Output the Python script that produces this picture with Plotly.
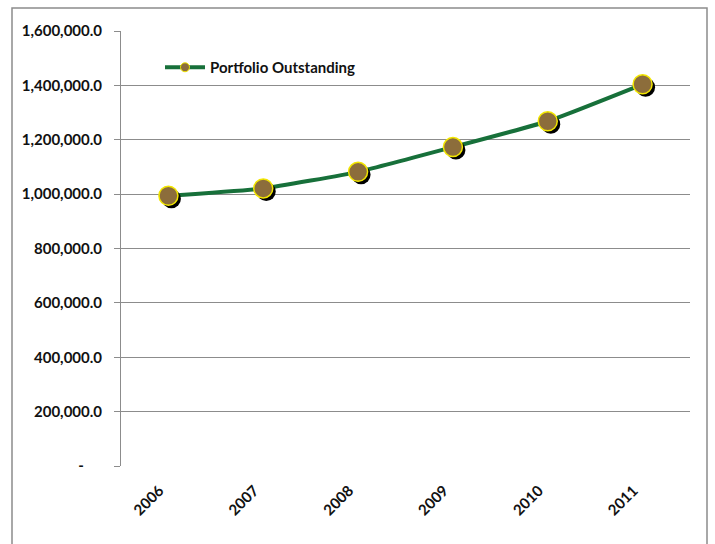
import plotly.graph_objects as go

# Portfolio outstanding by year
years = ["2006", "2007", "2008", "2009", "2010", "2011"]
portfolio = [994000, 1021000, 1082000, 1173000, 1268000, 1404000]
y_ticks = [0, 200000, 400000, 600000, 800000, 1000000, 1200000, 1400000, 1600000]
y_tick_labels = ["-" + "\u00a0" * 5, "200,000.0", "400,000.0", "600,000.0", "800,000.0",
                 "1,000,000.0", "1,200,000.0", "1,400,000.0", "1,600,000.0"]

W, H = 715, 544
M_L, M_R, M_T, M_B = 121, 25, 31, 78
plot_w = W - M_L - M_R
plot_h = H - M_T - M_B
y_max = 1600000

LINE_GREEN = "#17703A"
MARKER_FILL = "#8C6D3B"
MARKER_EDGE = "#F2E600"
FONT = "Lato"
TXT = "#111111"

x_idx = list(range(len(years)))

# drop shadow offset (pixels converted to axis units)
sh_px = 3
sh_dx = sh_px * (len(years)) / plot_w
sh_dy = sh_px * y_max / plot_h

fig = go.Figure()

# line only
fig.add_trace(go.Scatter(
    x=x_idx, y=portfolio, mode="lines",
    line=dict(color=LINE_GREEN, width=4, shape="spline", smoothing=0.4),
    showlegend=False, hoverinfo="skip",
))
# marker shadows
fig.add_trace(go.Scatter(
    x=[v + sh_dx for v in x_idx], y=[v - sh_dy for v in portfolio], mode="markers",
    marker=dict(size=19, color="black", line=dict(width=0)),
    showlegend=False, hoverinfo="skip",
))
# markers
fig.add_trace(go.Scatter(
    x=x_idx, y=portfolio, mode="markers",
    marker=dict(size=19, color=MARKER_FILL, line=dict(color=MARKER_EDGE, width=1.5)),
    showlegend=False, name="Portfolio Outstanding",
))
# legend entry
fig.add_trace(go.Scatter(
    x=[None], y=[None], mode="lines+markers", name="Portfolio Outstanding",
    line=dict(color=LINE_GREEN, width=4),
    marker=dict(size=9, color=MARKER_FILL, line=dict(color=MARKER_EDGE, width=1)),
))

fig.update_layout(
    width=W, height=H,
    margin=dict(l=M_L, r=M_R, t=M_T, b=M_B),
    paper_bgcolor="white", plot_bgcolor="white",
    font=dict(family=FONT, size=15, color=TXT),
    legend=dict(
        x=(160 - M_L) / plot_w, y=1 - (62 - 11 - M_T) / plot_h,
        xanchor="left", yanchor="top",
        bgcolor="rgba(0,0,0,0)", itemwidth=40,
        font=dict(family=FONT, size=15, color=TXT, weight="bold"),
    ),
    xaxis=dict(
        range=[-0.5, len(years) - 0.5],
        tickmode="array", tickvals=x_idx, ticktext=years,
        tickangle=-45, showgrid=False, zeroline=False,
        showline=False, ticks="", ticklabelstandoff=12, ticklabelshift=-9,
        tickfont=dict(family=FONT, size=15, color=TXT, weight="bold"),
    ),
    yaxis=dict(
        range=[0, y_max],
        tickmode="array", tickvals=y_ticks, ticktext=y_tick_labels,
        showgrid=True, gridcolor="#8C8C8C", gridwidth=1,
        zeroline=False, showline=True, linecolor="#8C8C8C", linewidth=1,
        ticks="outside", ticklen=6, tickcolor="#8C8C8C",
        ticklabelstandoff=9,
        tickfont=dict(family=FONT, size=15, color=TXT, weight="bold"),
    ),
    shapes=[
        dict(type="rect", xref="paper", yref="paper",
             x0=(12 - M_L) / plot_w, x1=(707 - M_L) / plot_w,
             y0=(M_T + plot_h - 560) / plot_h, y1=1 + (M_T - 8) / plot_h,
             line=dict(color="#8C8C8C", width=1.5), layer="below"),
    ],
)

fig.write_html("out.html")
